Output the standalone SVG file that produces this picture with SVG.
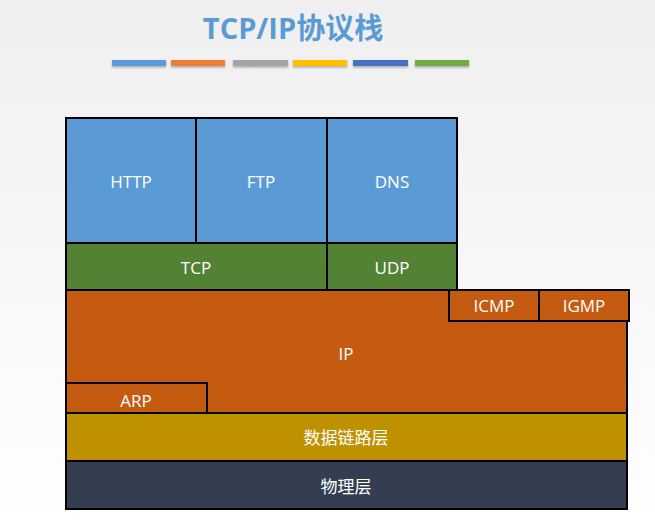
<svg xmlns="http://www.w3.org/2000/svg" width="655" height="528" viewBox="0 0 655 528">
<defs>
<linearGradient id="bg" x1="0" y1="0" x2="0" y2="1"><stop offset="0" stop-color="#efefef"/><stop offset="1" stop-color="#ffffff"/></linearGradient>
<filter id="sh" x="-10%" y="-50%" width="120%" height="250%"><feDropShadow dx="0" dy="1.5" stdDeviation="1" flood-color="#000" flood-opacity="0.3"/></filter>
</defs>
<style>
.b{stroke:#000;stroke-width:2}
.t{font-family:"Open Sans","Liberation Sans","Noto Sans CJK SC",sans-serif;font-size:17px;fill:#fff;text-anchor:middle;dominant-baseline:central}
</style>
<rect width="655" height="528" fill="url(#bg)"/>
<text x="293" y="27" font-family="Open Sans,Liberation Sans,Noto Sans CJK SC,sans-serif" font-size="29" font-weight="bold" fill="#5B9BD5" text-anchor="middle" dominant-baseline="central">TCP/IP协议栈</text>
<g filter="url(#sh)">
<rect x="112" y="60" width="54" height="6" fill="#5B9BD5"/>
<rect x="171" y="60" width="54" height="6" fill="#ED7D31"/>
<rect x="233" y="60" width="55" height="6" fill="#A5A5A5"/>
<rect x="293" y="60" width="54" height="6" fill="#FFC000"/>
<rect x="353" y="60" width="55" height="6" fill="#4472C4"/>
<rect x="415" y="60" width="54" height="6" fill="#70AD47"/>
</g>
<g id="http"><rect class="b" x="66" y="118" width="130" height="125" fill="#5B9BD5"/><text class="t" x="131" y="181">HTTP</text></g>
<g id="ftp"><rect class="b" x="196" y="118" width="131" height="125" fill="#5B9BD5"/><text class="t" x="261" y="181">FTP</text></g>
<g id="dns"><rect class="b" x="327" y="118" width="130" height="125" fill="#5B9BD5"/><text class="t" x="392" y="181">DNS</text></g>
<g id="tcp"><rect class="b" x="66" y="243" width="261" height="47" fill="#548235"/><text class="t" x="196" y="267">TCP</text></g>
<g id="udp"><rect class="b" x="327" y="243" width="130" height="47" fill="#548235"/><text class="t" x="392" y="267">UDP</text></g>
<g id="ip"><rect class="b" x="66" y="290" width="561" height="123" fill="#C55A11"/><text class="t" x="346" y="353">IP</text></g>
<g id="icmp"><rect class="b" x="449" y="290" width="90" height="31" fill="#C55A11"/><text class="t" x="494" y="305">ICMP</text></g>
<g id="igmp"><rect class="b" x="539" y="290" width="90" height="31" fill="#C55A11"/><text class="t" x="584" y="305">IGMP</text></g>
<g id="arp"><rect class="b" x="66" y="383" width="141" height="30" fill="#C55A11"/><text class="t" x="136" y="400">ARP</text></g>
<g id="link"><rect class="b" x="66" y="413" width="561" height="48" fill="#BF9000"/><text class="t" x="346" y="437">数据链路层</text></g>
<g id="phys"><rect class="b" x="66" y="461" width="561" height="48" fill="#333F50"/><text class="t" x="346" y="486">物理层</text></g>
<g id="connectors"/>
</svg>
